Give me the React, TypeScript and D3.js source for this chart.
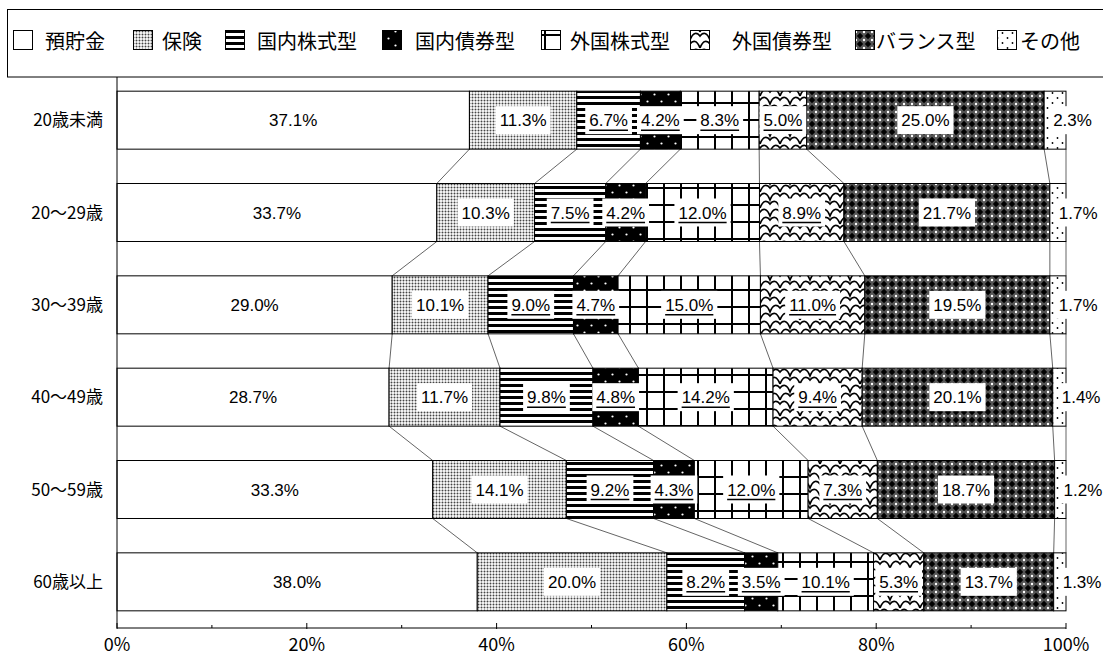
import { useRef, useEffect } from "react";
import * as d3 from "d3";

const categories = ["20歳未満", "20～29歳", "30～39歳", "40～49歳", "50～59歳", "60歳以上"];
const seriesNames = ["預貯金", "保険", "国内株式型", "国内債券型", "外国株式型", "外国債券型", "バランス型", "その他"];

const yochokin = [37.1, 33.7, 29.0, 28.7, 33.3, 38.0];
const hoken = [11.3, 10.3, 10.1, 11.7, 14.1, 20.0];
const kokunaiKabu = [6.7, 7.5, 9.0, 9.8, 9.2, 8.2];
const kokunaiSai = [4.2, 4.2, 4.7, 4.8, 4.3, 3.5];
const gaikokuKabu = [8.3, 12.0, 15.0, 14.2, 12.0, 10.1];
const gaikokuSai = [5.0, 8.9, 11.0, 9.4, 7.3, 5.3];
const balance = [25.0, 21.7, 19.5, 20.1, 18.7, 13.7];
const sonota = [2.3, 1.7, 1.7, 1.4, 1.2, 1.3];

const seriesValues = [yochokin, hoken, kokunaiKabu, kokunaiSai, gaikokuKabu, gaikokuSai, balance, sonota];
const xTicks = [0, 0.2, 0.4, 0.6, 0.8, 1];

const W = 1103;
const H = 655;
const JP = "'Noto Sans CJK JP', 'Noto Sans', sans-serif";
const NUM = "'Liberation Sans Narrow', 'Liberation Sans', Arial, sans-serif";

// legend layout (swatch x, text x)
const legendSwatchX = [13, 133, 225, 382, 541, 690, 855, 997];
const legendTextX = [45, 162, 257, 415, 570, 732, 876, 1020];

export default function App() {
  const svgRef = useRef<SVGSVGElement>(null);

  useEffect(() => {
    const svg = d3.select(svgRef.current);
    svg.selectAll("*").remove();

    // patterns
    const defs = svg.append("defs");
    const pat = (id: string, w: number, h: number) =>
      defs.append("pattern").attr("id", id).attr("patternUnits", "userSpaceOnUse").attr("width", w).attr("height", h);

    let p = pat("p1", 3, 3);
    p.append("rect").attr("width", 3).attr("height", 3).attr("fill", "#fff");
    p.append("circle").attr("cx", 1.5).attr("cy", 1.5).attr("r", 1).attr("fill", "#444");

    p = pat("p2", 6, 6);
    p.append("rect").attr("width", 6).attr("height", 6).attr("fill", "#fff");
    p.append("rect").attr("width", 6).attr("height", 3).attr("fill", "#000");

    p = pat("p3", 14, 14);
    p.append("rect").attr("width", 14).attr("height", 14).attr("fill", "#000");
    p.append("circle").attr("cx", 3.5).attr("cy", 3.5).attr("r", 1.1).attr("fill", "#fff");
    p.append("circle").attr("cx", 10.5).attr("cy", 10.5).attr("r", 1.1).attr("fill", "#fff");

    p = pat("p4", 17, 17);
    p.append("rect").attr("width", 17).attr("height", 17).attr("fill", "#fff");
    p.append("rect").attr("x", 0).attr("width", 2).attr("height", 17).attr("fill", "#000");
    p.append("rect").attr("y", 0).attr("width", 17).attr("height", 2).attr("fill", "#000");

    p = pat("p5", 20, 16);
    p.append("rect").attr("width", 20).attr("height", 16).attr("fill", "#fff");
    p.append("path")
      .attr("d", "M0,16 C3,8 7,8 10,12 C13,8 17,8 20,16 M-10,8 C-7,0 -3,0 0,4 C3,0 7,0 10,8 C13,0 17,0 20,4 C23,0 27,0 30,8 M0,0 C3,-8 7,-8 10,-4 C13,-8 17,-8 20,0")
      .attr("fill", "none").attr("stroke", "#000").attr("stroke-width", 1.7);

    p = pat("p6", 8, 8);
    p.append("rect").attr("width", 8).attr("height", 8).attr("fill", "#555");
    p.append("path").attr("d", "M4,0.8 L7.2,4 L4,7.2 L0.8,4 Z").attr("fill", "#000");
    [[0, 0], [8, 0], [0, 8], [8, 8]].forEach(([cx, cy]) =>
      p.append("circle").attr("cx", cx).attr("cy", cy).attr("r", 1.2).attr("fill", "#fff"));

    p = pat("p7", 10, 10);
    p.append("rect").attr("width", 10).attr("height", 10).attr("fill", "#fff");
    p.append("circle").attr("cx", 2.5).attr("cy", 3).attr("r", 0.9).attr("fill", "#000");
    p.append("circle").attr("cx", 7.5).attr("cy", 8).attr("r", 0.9).attr("fill", "#000");

    const fills = ["#fff", "url(#p1)", "url(#p2)", "url(#p3)", "url(#p4)", "url(#p5)", "url(#p6)", "url(#p7)"];
    const underlined = [false, false, true, true, true, true, false, false];

    // legend
    svg.append("rect").attr("x", 7.5).attr("y", 9.5).attr("width", W).attr("height", 67.5)
      .attr("fill", "#fff").attr("stroke", "#000").attr("stroke-width", 1);
    seriesNames.forEach((name, i) => {
      svg.append("rect").attr("x", legendSwatchX[i] + 0.5).attr("y", 30.5).attr("width", 19).attr("height", 19)
        .attr("fill", fills[i]).attr("stroke", "#000").attr("stroke-width", 1);
      svg.append("text").attr("x", legendTextX[i]).attr("y", 49).attr("font-family", JP)
        .attr("font-size", 20).attr("fill", "#000").text(name);
    });

    const x = d3.scaleLinear().domain([0, 1]).range([117, 1066]);
    const y = d3.scaleBand<string>().domain(categories).range([74, 628]).paddingInner(0.372).paddingOuter(0.186);

    // stacked data (100% normalized)
    const rows = categories.map((cat, ci) => {
      const vals = seriesValues.map((s) => s[ci]);
      const total = d3.sum(vals);
      let acc = 0;
      return vals.map((v, si) => {
        const x0 = acc / total;
        acc += v;
        return { cat, si, v, x0, x1: acc / total };
      });
    });

    // series lines
    const lines = svg.append("g");
    for (let r = 0; r < rows.length - 1; r++) {
      for (let k = 0; k < seriesNames.length; k++) {
        lines.append("line")
          .attr("x1", x(rows[r][k].x1)).attr("y1", y(categories[r])! + y.bandwidth())
          .attr("x2", x(rows[r + 1][k].x1)).attr("y2", y(categories[r + 1])!)
          .attr("stroke", "#222").attr("stroke-width", 0.7);
      }
    }

    // bars
    const bars = svg.append("g");
    rows.forEach((row) => {
      row.forEach((d) => {
        bars.append("rect")
          .attr("x", x(d.x0)).attr("y", y(d.cat)!)
          .attr("width", x(d.x1) - x(d.x0)).attr("height", y.bandwidth())
          .attr("fill", fills[d.si]).attr("stroke", "#000").attr("stroke-width", 1);
      });
    });

    // labels
    const lab = svg.append("g");
    rows.forEach((row) => {
      row.forEach((d) => {
        const cy = y(d.cat)! + y.bandwidth() / 2;
        const last = d.si === seriesNames.length - 1;
        const tx = last ? x(d.x0) + 9 : (x(d.x0) + x(d.x1)) / 2;
        const g = lab.append("g");
        const bg = g.append("rect").attr("fill", "#fff");
        const t = g.append("text").attr("x", tx).attr("y", cy + 6)
          .attr("text-anchor", last ? "start" : "middle")
          .attr("font-family", NUM).attr("font-size", 17).attr("fill", "#000")
          .text(d.v.toFixed(1) + "%");
        const tw = (t.node() as SVGTextElement).getComputedTextLength();
        const left = last ? tx : tx - tw / 2;
        if (d.si > 0) {
          if (last) bg.attr("x", left - 3).attr("y", cy - 14).attr("width", tw + 5).attr("height", 28);
          else bg.attr("x", left - 4).attr("y", cy - 14).attr("width", tw + 8).attr("height", 28);
        }
        if (underlined[d.si]) {
          g.append("line").attr("x1", left).attr("x2", left + tw)
            .attr("y1", cy + 10).attr("y2", cy + 10).attr("stroke", "#000").attr("stroke-width", 1.5);
        }
      });
    });

    // category labels
    svg.append("g").selectAll("text").data(categories).join("text")
      .attr("x", 103).attr("y", (d) => y(d)! + y.bandwidth() / 2 + 6)
      .attr("text-anchor", "end").attr("font-family", JP).attr("font-size", 17).attr("fill", "#000")
      .text((d) => d);

    // axes
    const ax = svg.append("g").attr("transform", "translate(0,628)");
    ax.append("line").attr("x1", x(0)).attr("x2", x(1)).attr("stroke", "#000");
    ax.selectAll("line.minor").data(d3.range(0.1, 1, 0.2)).join("line").attr("class", "minor")
      .attr("x1", (d) => x(d)).attr("x2", (d) => x(d)).attr("y1", -3).attr("y2", 0).attr("stroke", "#000");
    ax.selectAll("line.major").data(xTicks).join("line").attr("class", "major")
      .attr("x1", (d) => x(d)).attr("x2", (d) => x(d)).attr("y1", -5).attr("y2", 1).attr("stroke", "#000");
    ax.selectAll("text").data(xTicks).join("text")
      .attr("x", (d) => x(d)).attr("y", 23).attr("text-anchor", "middle")
      .attr("font-family", JP).attr("font-size", 18).attr("fill", "#000")
      .text((d) => d3.format(".0%")(d));
    svg.append("line").attr("x1", x(0)).attr("x2", x(0)).attr("y1", 77).attr("y2", 628).attr("stroke", "#000");
  }, []);

  return (
    <svg ref={svgRef} width={W} height={H}
      style={{ position: "absolute", left: 0, top: 0, background: "#fff" }} />
  );
}
